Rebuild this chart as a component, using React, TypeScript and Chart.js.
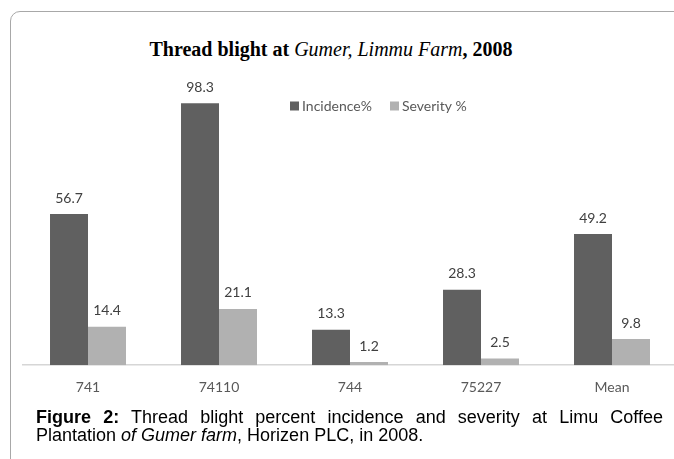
import React, { useEffect, useRef } from "react";
import { Chart, registerables } from "chart.js";

Chart.register(...registerables);

const categories = ["741", "74110", "744", "75227", "Mean"];
const incidence = [56.7, 98.3, 13.3, 28.3, 49.2];
const severity = [14.4, 21.1, 1.2, 2.5, 9.8];
const seriesLabels = ["Incidence%", "Severity %"];

const DARK = "#606060";
const LIGHT = "#b1b1b1";
const LABEL_FONT = "14px Lato";

const valueLabels = {
  id: "valueLabels",
  afterDatasetsDraw(chart: any) {
    const ctx = chart.ctx;
    ctx.save();
    ctx.font = LABEL_FONT;
    ctx.fillStyle = "#404040";
    ctx.textAlign = "center";
    ctx.textBaseline = "middle";
    chart.data.datasets.forEach((ds: any, i: number) => {
      const meta = chart.getDatasetMeta(i);
      meta.data.forEach((el: any, j: number) => {
        ctx.fillText(String(ds.data[j]), el.x, el.y - 16);
      });
    });
    ctx.restore();
  },
};

const customLegend = {
  id: "customLegend",
  afterDraw(chart: any) {
    const ctx = chart.ctx;
    const starts = [290, 390];
    ctx.save();
    ctx.font = LABEL_FONT;
    ctx.textBaseline = "middle";
    ctx.textAlign = "left";
    chart.data.datasets.forEach((ds: any, i: number) => {
      const x = starts[i];
      ctx.fillStyle = ds.backgroundColor;
      ctx.fillRect(x, 41.5, 9, 9);
      ctx.fillStyle = "#595959";
      ctx.fillText(ds.label, x + 12, 46.5);
    });
    ctx.restore();
  },
};

export default function App() {
  const ref = useRef<HTMLCanvasElement | null>(null);

  useEffect(() => {
    if (!ref.current) return;
    const chart = new Chart(ref.current, {
      type: "bar",
      data: {
        labels: categories,
        datasets: [
          { label: seriesLabels[0], data: incidence, backgroundColor: DARK },
          { label: seriesLabels[1], data: severity, backgroundColor: LIGHT },
        ],
      },
      options: {
        animation: false,
        responsive: false,
        maintainAspectRatio: false,
        layout: { padding: { left: 22.5, right: 42.5, top: 36, bottom: 6 } },
        datasets: { bar: { categoryPercentage: 0.58, barPercentage: 1 } },
        plugins: {
          legend: { display: false },
          title: { display: false },
          tooltip: { enabled: false },
        },
        scales: {
          x: {
            grid: { display: false },
            border: { display: true, color: "#d6d6d6", width: 1.5 },
            ticks: { color: "#595959", font: { family: "Lato", size: 14 }, padding: 6 },
          },
          y: { display: false, min: 0, max: 101 },
        },
      },
      plugins: [valueLabels, customLegend],
    });
    return () => chart.destroy();
  }, []);

  return (
    <div
      style={{
        position: "fixed",
        left: 0,
        top: 0,
        width: 674,
        height: 459,
        overflow: "hidden",
        background: "#fff",
      }}
    >
      <div
        style={{
          position: "absolute",
          left: 10,
          top: 11,
          width: 720,
          height: 520,
          border: "1.5px solid #a8a8a8",
          borderRadius: 10,
          boxSizing: "border-box",
        }}
      />
      <div
        style={{
          position: "absolute",
          left: 0,
          top: 39,
          width: 662,
          textAlign: "center",
          fontFamily: "'Liberation Serif', 'Times New Roman', serif",
          fontSize: 20,
          lineHeight: "20px",
          fontWeight: "bold",
          color: "#000",
          whiteSpace: "nowrap",
        }}
      >
        Thread blight at <span style={{ fontStyle: "italic", fontWeight: "normal" }}>Gumer, Limmu Farm</span>, 2008
      </div>
      <canvas
        ref={ref}
        width={720}
        height={348}
        style={{ position: "absolute", left: 0, top: 60, width: 720, height: 348 }}
      />
      <div
        style={{
          position: "absolute",
          left: 36,
          top: 408,
          width: 627,
          fontFamily: "'Liberation Sans', Arial, sans-serif",
          fontSize: 18,
          lineHeight: "18px",
          color: "#000",
          textAlign: "justify",
          textAlignLast: "left",
        }}
      >
        <b>Figure 2:</b> Thread blight percent incidence and severity at Limu Coffee Plantation{" "}
        <i>of Gumer farm</i>, Horizen PLC, in 2008.
      </div>
    </div>
  );
}
